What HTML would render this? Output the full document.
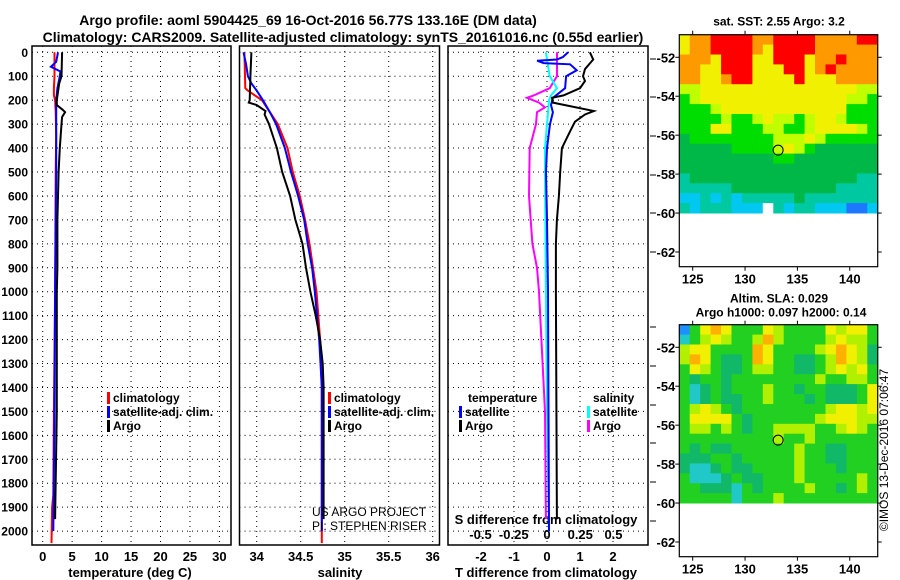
<!DOCTYPE html>
<html><head><meta charset="utf-8"><style>
html,body{margin:0;padding:0;background:#fff;}
svg{display:block;font-family:"Liberation Sans",sans-serif;font-weight:bold;}
</style></head><body>
<svg id="c" width="900" height="580" viewBox="0 0 900 580" xmlns="http://www.w3.org/2000/svg">
<text x="308" y="25" font-size="14" text-anchor="middle">Argo profile: aoml 5904425_69 16-Oct-2016 56.77S 133.16E (DM data)</text>
<text x="343" y="42" font-size="14" text-anchor="middle">Climatology: CARS2009. Satellite-adjusted climatology: synTS_20161016.nc (0.55d earlier)</text>
<g id="g"></g>
<text transform="translate(888,450) rotate(-90)" font-size="12" font-weight="normal" text-anchor="middle">©IMOS 13-Dec-2016 07:06:47</text>
</svg>
<script>
// ---------- profile data ----------
const depthTicks=[0,100,200,300,400,500,600,700,800,900,1000,1100,1200,1300,1400,1500,1600,1700,1800,1900,2000];
const tTicks=[0,5,10,15,20,25,30];
const sTicks=[34,34.5,35,35.5,36];
const sTickLabels=["34","34.5","35","35.5","36"];
const dtTicks=[-2,-1,0,1,2];
const dsTicks=[-0.5,-0.25,0,0.25,0.5];
const dsTickLabels=["-0.5","-0.25","0","0.25","0.5"];

const tempClimDepth=[0,100,150,180,200,250,350,500,1000,1500,1850,1900,2050];
const tempClim=[2.0,2.0,1.9,1.9,2.1,2.2,2.3,2.2,2.1,1.9,1.8,1.6,1.5];
const tempSatDepth=[0,40,60,70,80,100,150,200,300,500,1000,1500,2000];
const tempSat=[2.6,2.3,1.4,2.2,3.0,2.9,2.5,2.3,2.3,2.3,2.1,2.0,1.8];
const tempArgoDepth=[0,100,130,200,220,240,250,270,300,400,500,700,900,1000,1500,1950];
const tempArgo=[3.3,3.2,2.8,2.4,2.4,3.4,3.8,3.3,3.2,2.9,2.7,2.5,2.5,2.4,2.4,2.1];

const salClimDepth=[0,150,160,180,200,250,300,400,500,600,700,800,900,1000,1200,1400,2050];
const salClim=[33.86,33.87,33.9,33.98,34.06,34.15,34.24,34.35,34.41,34.49,34.55,34.6,34.64,34.68,34.72,34.74,34.74];
const salSatDepth=[0,50,100,130,160,200,250,300,400,500,600,700,800,900,1000,1200,1400,2000];
const salSat=[33.85,33.88,33.9,33.94,34.0,34.07,34.15,34.22,34.32,34.39,34.47,34.54,34.58,34.63,34.66,34.71,34.74,34.74];
const salArgoDepth=[0,90,200,210,220,245,260,300,400,500,600,700,800,900,1000,1100,1200,1300,1400,1950];
const salArgo=[33.94,33.93,33.92,33.91,34.0,34.1,34.09,34.14,34.23,34.29,34.38,34.44,34.52,34.56,34.61,34.67,34.72,34.75,34.76,34.76];

const dTSatDepth=[0,20,30,35,45,50,75,100,150,190,220,250,300,400,500,700,1000,2000];
const dTSat=[0.64,0.48,0.3,-0.3,-0.1,0.7,0.9,0.58,0.55,0.18,0.12,0.18,0.09,0.0,-0.03,0.0,0.03,0.06];
const dTArgoDepth=[0,30,70,100,120,150,180,190,210,245,260,290,330,400,500,600,700,800,1000,1950];
const dTArgo=[1.3,1.4,1.15,1.09,1.15,1.0,0.5,0.15,0.18,1.42,1.15,0.85,0.7,0.45,0.4,0.36,0.3,0.27,0.27,0.3];
const dSSatDepth=[0,100,150,180,200,250,300,400,500,1000,1500,2000];
const dSSat=[-0.008,0.02,0.075,0.03,0.015,0.008,0.0,-0.015,-0.015,-0.008,0.0,0.015];
const dSArgoDepth=[0,100,150,180,190,210,230,250,300,400,600,800,900,1000,1500,1950];
const dSArgo=[0.075,0.075,0.02,-0.1,-0.15,-0.06,-0.015,-0.075,-0.083,-0.13,-0.135,-0.11,-0.075,-0.06,-0.015,-0.008];

// ---------- map data ----------
const mapLonTicks=[125,130,135,140];
const mapLatTicks=[-52,-54,-56,-58,-60,-62];
const floatLon=133.16, floatLat=-56.77;
const sstRows=[
"YOORRRROORRRROOOORR","YOORRRROYRRRROOOOOO","OOOYRRRYYRRRYOOROOO","OOYYRRRYYYRRYOROOOO",
"OOYYORRYYYYRYYYOOOO","LLYYYYYYYYYYYYYYYLL","GLYYYYYYYYYYYYYYLLG","GGGLYYYYYYYYYYYYGGG",
"GGGGLGGLYLLGLYYLGGG","GGGYYGGGLLGGLYYYYLG","DGGGGGGGGLLLYLGGGGG","DDDDDGGGGLYLGDDDDDD",
"DDDDDDDDDGGDDDDDDDD","DDDDDDDDDDDDDDDDDDD","TDDDDDDDDDDDDDDDDTT","TTTTTDDDDDDDDDDTTTT",
"CCTCTCTTTTTDTTTTTTT","TCTTTCCCWTCTTCCCBBC"];
const slaRows=[
"BGYOYGGGYLGGGGYLYYG","CGLYLGGLOLGGGGLYLLG","LYYGGGGOYGGGGLYOYLD","LOYGDDGOYGGDDGLOYLD",
"GYLGDDGLLGGDDGLYLYG","GDGGDGGGGGGGGLGGLLG","GCDGDGGGLGGDGGDDDGY","GCDGDDGGLGGGDGDDDGY",
"GLYLGDGGGGGGGGLYYLY","GYYYYGDGGGGGGLYYYLL","GLLGLGDGGLLLLGGLYLG","GGGGGGGGGLGGLGGGGGG",
"GDGDDGGGGGGLGGDDGGG","DDDGGDGGGGGLGGDDGGG","DCCDGDDGGGGLGGGDGGG","GCCCDGDDGGGLGGGGGLG",
"GGDDDCGDGGGGLGGDGLG","GGGGGCGGGLGGGGGGGGG"];
const sstPal={R:"#ff0000",O:"#ff9900",Y:"#f0f000",L:"#c0ff00",G:"#00dd00",D:"#00b848",T:"#00c8a0",C:"#00c8f0",B:"#1e78ff",W:"#ffffff"};
const slaPal={B:"#1e90ff",C:"#20c8c8",D:"#10b868",G:"#22d022",L:"#b0f000",Y:"#f0f000",O:"#ffb000"};

const NS="http://www.w3.org/2000/svg";
const G=document.getElementById('g');
function mk(tag,attrs,parent){const e=document.createElementNS(NS,tag);for(const k in attrs)e.setAttribute(k,attrs[k]);(parent||G).appendChild(e);return e;}
function txt(x,y,s,size,anchor,fill){const e=mk('text',{x:x,y:y,'font-size':size||12,'text-anchor':anchor||'middle',fill:fill||'#000'});e.textContent=s;return e;}

const yTop=52.3, pxPer100=23.94, panelTop=46, panelBot=545;
const yD=d=>yTop+d*pxPer100/100;

function panel(name,x0,x1){
  const r=mk('rect',{x:x0,y:panelTop,width:x1-x0,height:panelBot-panelTop,fill:'none',stroke:'#000','stroke-width':1.5});
  
  
  depthTicks.forEach(d=>{
    const l=mk('line',{x1:x0,x2:x1,y1:yD(d),y2:yD(d),stroke:'#000','stroke-dasharray':'1 4','stroke-width':1});
    
    
  });
}
function vgrid(name,xs,fx){
  xs.forEach(v=>{const x=fx(v);
    const l=mk('line',{x1:x,x2:x,y1:panelTop,y2:panelBot,stroke:'#000','stroke-dasharray':'1 4','stroke-width':1});
    
    
  });
}
function line(name,xs,ds,fx,color,w){
  const pts=xs.map((v,i)=>fx(v).toFixed(1)+','+yD(ds[i]).toFixed(1)).join(' ');
  const p=mk('polyline',{points:pts,fill:'none',stroke:color,'stroke-width':w||2,'stroke-linejoin':'miter'});
  
  
}

// Panel 1 temperature
const xT=t=>42.7+t*5.89;
panel('temperature-panel',32,231);
vgrid('temperature',tTicks,xT);
depthTicks.forEach(d=>{const e=txt(28,yD(d)+4.5,String(d),12,'end');
  
  });
tTicks.forEach(t=>{const e=txt(xT(t),561,String(t),13);
  
  });
{const e=txt(130,577,'temperature (deg C)',13);}
line('temperature-climatology-line',tempClim,tempClimDepth,xT,'#ff0000');
line('temperature-satellite-line',tempSat,tempSatDepth,xT,'#0000ff');
line('temperature-argo-line',tempArgo,tempArgoDepth,xT,'#000000');

// Panel 2 salinity
const xS=s=>256.7+(s-34)*88;
panel('salinity-panel',239.5,439.5);
vgrid('salinity',sTicks,xS);
sTicks.forEach((s,i)=>{const e=txt(xS(s),561,sTickLabels[i],13);
  
  });
{const e=txt(340,577,'salinity',13);}
line('salinity-climatology-line',salClim,salClimDepth,xS,'#ff0000');
line('salinity-satellite-line',salSat,salSatDepth,xS,'#0000ff');
line('salinity-argo-line',salArgo,salArgoDepth,xS,'#000000');

// Panel 3 differences
const xDT=t=>547+t*33;
const xDS=s=>547+s*133;
panel('difference-panel',448,648);
vgrid('difference',dtTicks,xDT);
dtTicks.forEach(t=>{const e=txt(xDT(t),561,String(t),13);
  
  });
dsTicks.forEach((s,i)=>{const e=txt(xDS(s),539,dsTickLabels[i],13);
  
  });
{const e=txt(546,524,'S difference from climatology',13);}
{const e=txt(546,577,'T difference from climatology',13);}
line('s-difference-argo-line',dSArgo,dSArgoDepth,xDS,'#ff00ff');
line('s-difference-satellite-line',dSSat,dSSatDepth,xDS,'#00ffff');
line('t-difference-satellite-line',dTSat,dTSatDepth,xDT,'#0000ff');
line('t-difference-argo-line',dTArgo,dTArgoDepth,xDT,'#000000');
[59,97,136,175,213,252,327,366,405,443,482,521].forEach(y=>{mk('line',{x1:650,x2:656,y1:y,y2:y,stroke:'#000','stroke-width':1});});

// legends
function legItem(name,x,y,color,label){
  const m=mk('rect',{x:x,y:y-10,width:3,height:12,fill:color});
  
  
  const t=txt(x+6,y,label,12,'start');
  
  
}
legItem('temperature-legend-climatology',107,402,'#ff0000','climatology');
legItem('temperature-legend-satellite',107,416,'#0000ff','satellite-adj. clim.');
legItem('temperature-legend-argo',107,430,'#000000','Argo');
legItem('salinity-legend-climatology',328,402,'#ff0000','climatology');
legItem('salinity-legend-satellite',328,416,'#0000ff','satellite-adj. clim.');
legItem('salinity-legend-argo',328,430,'#000000','Argo');
{const e=txt(468,402,'temperature',12,'start');}
legItem('difference-legend-t-satellite',459,416,'#0000ff','satellite');
legItem('difference-legend-t-argo',459,430,'#000000','Argo');
{const e=txt(593,402,'salinity',12,'start');}
legItem('difference-legend-s-satellite',587,416,'#00ffff','satellite');
legItem('difference-legend-s-argo',587,430,'#ff00ff','Argo');
{const e=txt(312,516,'US ARGO PROJECT',12,'start');e.setAttribute('font-weight','normal');}
{const e=txt(312,530,'PI: STEPHEN RISER',12,'start');e.setAttribute('font-weight','normal');}

// maps
const mLeft=679.3,mRight=877.7;
const mx=lon=>692.7+(lon-125)*10.47;
const latTop=-50.84, dataBottomLat=-60.0;
function drawMap(name,top,bot,rows,pal,title1,title2){
  const my=lat=>top+(latTop-lat)*19.47;
  const nR=rows.length;
  rows.forEach((row,ri)=>{
    const nC=row.length;
    const y0=my(latTop+(dataBottomLat-latTop)*ri/nR), y1=my(latTop+(dataBottomLat-latTop)*(ri+1)/nR);
    for(let ci=0;ci<nC;ci++){
      const x0=mLeft+(mRight-mLeft)*ci/nC, x1=mLeft+(mRight-mLeft)*(ci+1)/nC;
      const r=mk('rect',{x:x0.toFixed(1),y:y0.toFixed(1),width:(x1-x0+0.5).toFixed(1),height:(y1-y0+0.5).toFixed(1),fill:pal[row[ci]]});
      
      
    }
  });
  const f=mk('rect',{x:mLeft,y:top,width:mRight-mLeft,height:bot-top,fill:'none',stroke:'#000','stroke-width':1.2});
  
  
  mapLonTicks.forEach(l=>{
    mk('line',{x1:mx(l),x2:mx(l),y1:top-4,y2:top,stroke:'#000'});
    mk('line',{x1:mx(l),x2:mx(l),y1:bot,y2:bot+4,stroke:'#000'});
    const e=txt(mx(l),bot+17,String(l),13);
    
    
  });
  mapLatTicks.forEach(l=>{
    mk('line',{x1:mLeft-4,x2:mLeft,y1:my(l),y2:my(l),stroke:'#000'});
    mk('line',{x1:mRight,x2:mRight+4,y1:my(l),y2:my(l),stroke:'#000'});
    const e=txt(mLeft-4,my(l)+5,String(l),13,'end');
    
    
  });
  const c=mk('circle',{cx:mx(floatLon),cy:my(floatLat),r:5,fill:'none',stroke:'#000','stroke-width':1});
  
  
  const t1=txt(779,top-(title2?22:9),title1,12);
  
  
  if(title2){const t2=txt(781,top-8,title2,12);}
}
drawMap('sst-map',34.7,266.7,sstRows,sstPal,'sat. SST: 2.55 Argo: 3.2');
drawMap('sla-map',324.7,556.7,slaRows,slaPal,'Altim. SLA: 0.029','Argo h1000: 0.097 h2000: 0.14');
</script>
</body></html>
